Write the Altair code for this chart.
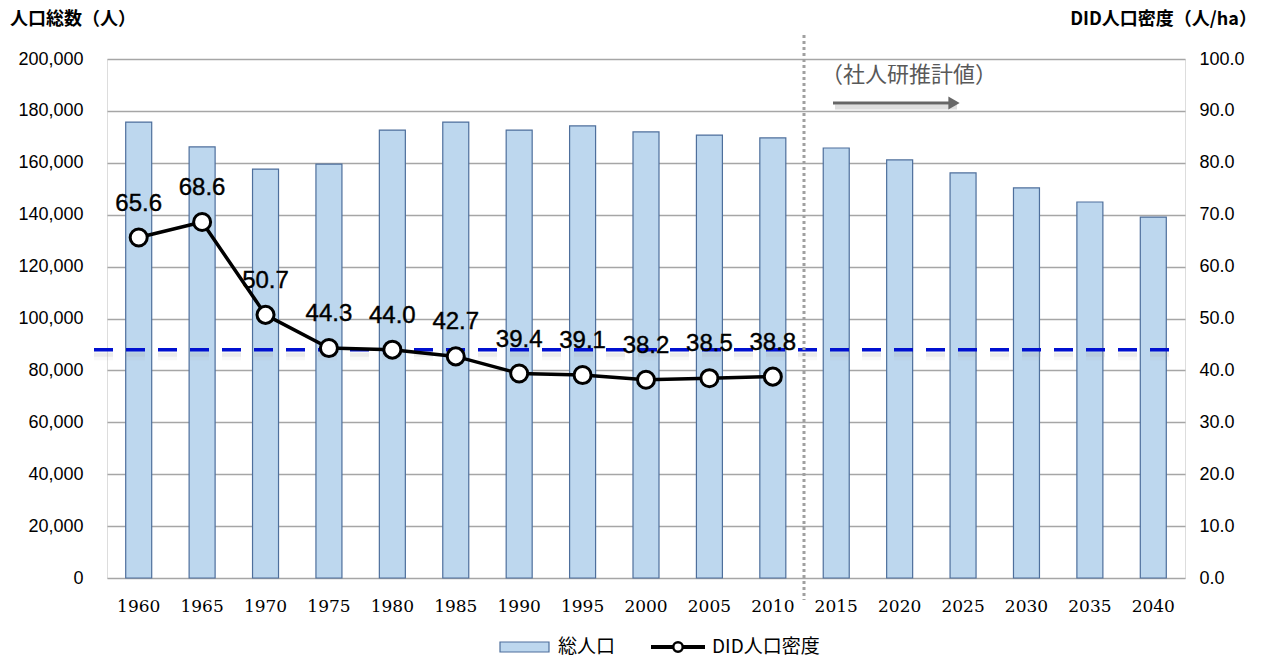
import altair as alt
import pandas as pd

# Population totals (persons) and DID population density (persons/ha)
years = ["1960", "1965", "1970", "1975", "1980", "1985", "1990", "1995", "2000",
         "2005", "2010", "2015", "2020", "2025", "2030", "2035", "2040"]
population = [175700, 166100, 157600, 159500, 172600, 175700, 172600, 174200,
              171900, 170700, 169600, 165700, 161100, 156100, 150300, 144900, 139100]
density_years = ["1960", "1965", "1970", "1975", "1980", "1985", "1990", "1995",
                 "2000", "2005", "2010"]
density = [65.6, 68.6, 50.7, 44.3, 44.0, 42.7, 39.4, 39.1, 38.2, 38.5, 38.8]
density_reference = [44.0]

W, H = 1078, 519
JP = "Noto Sans CJK JP"
NUM = "Liberation Sans"

pop_df = pd.DataFrame({"year": years, "population": population})
den_df = pd.DataFrame({"year": density_years, "density": density})
ref_df = pd.DataFrame({"density": density_reference})
one = alt.Data(values=[{}])

x_enc = alt.X(
    "year:N", sort=years, title=None,
    scale=alt.Scale(domain=years, paddingInner=0.59, paddingOuter=0.295),
    axis=alt.Axis(labelFont="DejaVu Serif", labelFontSize=17, labelColor="#000000",
                  labelAngle=0, labelPadding=20, ticks=False, domain=False),
)

bars = alt.Chart(pop_df).mark_bar(
    color="#BDD7EE", stroke="#4E6F9C", strokeWidth=1.2
).encode(
    x=x_enc,
    y=alt.Y("population:Q", title=None,
            scale=alt.Scale(domain=[0, 200000], nice=False),
            axis=alt.Axis(values=list(range(0, 200001, 20000)), format=",d",
                          labelFont=NUM, labelFontSize=18, labelColor="#000000",
                          labelPadding=24, ticks=False, domain=False,
                          grid=True, gridColor="#A6A6A6", gridWidth=1.5)),
)

right_axis = alt.Axis(values=list(range(0, 101, 10)), format=".1f", orient="right",
                      labelFont=NUM, labelFontSize=18, labelColor="#000000",
                      labelPadding=14, ticks=False, domain=False, grid=False)
y_den = alt.Y("density:Q", title=None,
              scale=alt.Scale(domain=[0, 100], nice=False), axis=right_axis)

# soft drop shadow under the dashed reference line
ref_shadow_wide = alt.Chart(ref_df).mark_rule(
    color="#a0a0a0", strokeWidth=9, strokeDash=[19, 13], opacity=0.08, yOffset=6
).encode(y=y_den, x=alt.value(-13), x2=alt.value(W - 4))
ref_shadow = alt.Chart(ref_df).mark_rule(
    color="#a0a0a0", strokeWidth=4, strokeDash=[19, 13], opacity=0.15, yOffset=5
).encode(y=y_den, x=alt.value(-13), x2=alt.value(W - 4))

ref_line = alt.Chart(ref_df).mark_rule(
    color="#0010D0", strokeWidth=3.5, strokeDash=[19, 13]
).encode(y=y_den, x=alt.value(-13), x2=alt.value(W - 4))

line = alt.Chart(den_df).mark_line(color="#000000", strokeWidth=3.5).encode(
    x=alt.X("year:N", sort=years), y=y_den)

points = alt.Chart(den_df).mark_point(
    shape="circle", size=290, filled=True, fill="#FFFFFF", stroke="#000000",
    strokeWidth=3, opacity=1
).encode(x=alt.X("year:N", sort=years), y=y_den)

labels = alt.Chart(den_df).mark_text(
    font=NUM, fontSize=24, color="#000000", baseline="middle", dy=-34,
    stroke="#000000", strokeWidth=0.4
).encode(x=alt.X("year:N", sort=years), y=y_den,
         text=alt.Text("density:Q", format=".1f"))

density_layer = alt.layer(ref_shadow_wide, ref_shadow, ref_line, line, points, labels)

# Boundary between observed and projected values
divider = alt.Chart(one).mark_rule(
    color="#A0A0A0", strokeWidth=3, strokeDash=[3, 3]
).encode(x=alt.value(697), y=alt.value(-24), y2=alt.value(541))

proj_text = alt.Chart(one).mark_text(
    text="（社人研推計値）", font=JP, fontSize=22, color="#595959",
    align="left", baseline="middle"
).encode(x=alt.value(714), y=alt.value(16))

arrow_shadow = alt.Chart(one).mark_rule(
    color="#bdbdbd", strokeWidth=5, opacity=0.5
).encode(x=alt.value(728), x2=alt.value(850), y=alt.value(48))
arrow_shaft = alt.Chart(one).mark_rule(color="#666666", strokeWidth=3).encode(
    x=alt.value(726), x2=alt.value(842), y=alt.value(44))
arrow_head = alt.Chart(one).mark_point(
    shape="triangle-right", size=170, filled=True, color="#666666", opacity=1
).encode(x=alt.value(847), y=alt.value(44))

# Axis titles
left_title = alt.Chart(one).mark_text(
    text="人口総数（人）", font=JP, fontSize=18, fontWeight="bold",
    color="#000000", align="left", baseline="middle"
).encode(x=alt.value(-97), y=alt.value(-39))
right_title = alt.Chart(one).mark_text(
    text="DID人口密度（人/ha）", font=JP, fontSize=18, fontWeight="bold",
    color="#000000", align="right", baseline="middle"
).encode(x=alt.value(1150), y=alt.value(-39))

# Legend
leg_bar = alt.Chart(one).mark_rect(
    color="#BDD7EE", stroke="#4E6F9C", strokeWidth=1.2
).encode(x=alt.value(393), x2=alt.value(442), y=alt.value(583), y2=alt.value(593))
leg_bar_text = alt.Chart(one).mark_text(
    text="総人口", font=JP, fontSize=19, color="#000000", align="left",
    baseline="middle"
).encode(x=alt.value(451), y=alt.value(588))
leg_line = alt.Chart(one).mark_rule(color="#000000", strokeWidth=4).encode(
    x=alt.value(544), x2=alt.value(598), y=alt.value(588))
leg_point = alt.Chart(one).mark_point(
    shape="circle", size=90, filled=True, fill="#FFFFFF", stroke="#000000",
    strokeWidth=2.5, opacity=1
).encode(x=alt.value(571), y=alt.value(588))
leg_line_text = alt.Chart(one).mark_text(
    text="DID人口密度", font=JP, fontSize=19, color="#000000", align="left",
    baseline="middle"
).encode(x=alt.value(605), y=alt.value(588))

decor = alt.layer(divider, proj_text, arrow_shadow, arrow_shaft, arrow_head,
                  left_title, right_title, leg_bar, leg_bar_text, leg_line,
                  leg_point, leg_line_text)

chart = alt.layer(bars, density_layer, decor).resolve_scale(
    y="independent"
).properties(
    width=W, height=H,
    autosize=alt.AutoSizeParams(type="none"),
    padding={"left": 107, "top": 59, "right": 79, "bottom": 81},
).configure_view(
    stroke="#8C8C8C", strokeWidth=1.5
).configure(background="#FFFFFF")

chart.save("out.html", embed_options={"renderer": "svg", "actions": False})
